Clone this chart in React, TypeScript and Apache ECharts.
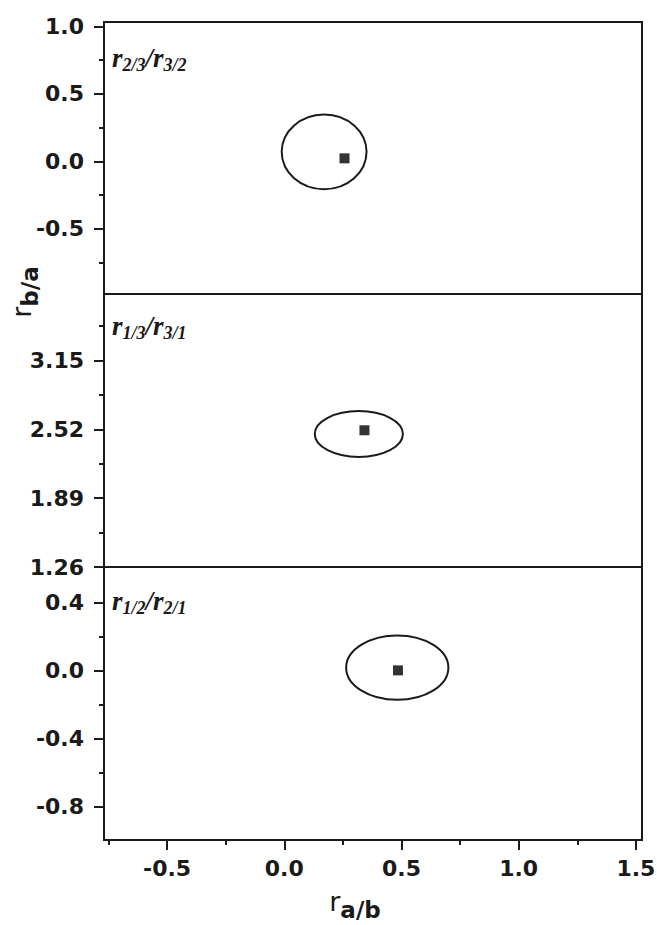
import React, { useEffect, useRef } from "react";
import * as echarts from "echarts";

const xRange = [-0.769, 1.526];
const xMajorTicks = [-0.5, 0, 0.5, 1.0, 1.5];
const xMinorTicks = [-0.75, -0.25, 0.25, 0.75, 1.25];

const panelSubs = [
  ["2/3", "3/2"],
  ["1/3", "3/1"],
  ["1/2", "2/1"],
];
const yRanges = [
  [-0.983, 1.032],
  [1.26, 3.758],
  [-0.996, 0.607],
];
const yMajorTicks = [
  [1.0, 0.5, 0.0, -0.5],
  [3.15, 2.52, 1.89, 1.26],
  [0.4, 0.0, -0.4, -0.8],
];
const yMinorTicks = [
  [0.75, 0.25, -0.25, -0.75],
  [3.465, 2.835, 2.205, 1.575],
  [0.2, -0.2, -0.6],
];
const yDecimals = [1, 2, 1];

const ellipseCenters = [
  [0.17, 0.07],
  [0.318, 2.477],
  [0.482, 0.016],
];
const ellipseRadii = [
  [0.181, 0.277],
  [0.188, 0.21],
  [0.218, 0.189],
];
const points = [
  [0.257, 0.022],
  [0.342, 2.511],
  [0.485, 0.0],
];

const gridTops = [22, 294, 567];
const gridHeights = [272, 273, 273];

const INK = "#1a1a1a";
const LABEL_FONT = "'DejaVu Sans', sans-serif";

export default function App() {
  const ref = useRef<HTMLDivElement>(null);

  useEffect(() => {
    if (!ref.current) return;
    const chart = echarts.init(ref.current, undefined, { renderer: "svg" });

    const grids = gridTops.map((top, i) => ({
      left: 104,
      top,
      width: 538,
      height: gridHeights[i],
      show: true,
      borderColor: INK,
      borderWidth: 2,
      backgroundColor: "transparent",
      containLabel: false,
      outerBoundsMode: "none",
    }));

    const xAxes: any[] = [];
    const yAxes: any[] = [];
    const series: any[] = [];

    for (let i = 0; i < 3; i++) {
      const isBottom = i === 2;
      xAxes.push({
        type: "value",
        gridIndex: i,
        min: xRange[0],
        max: xRange[1],
        show: isBottom,
        position: "bottom",
        splitLine: { show: false },
        axisLine: { show: true, onZero: false, lineStyle: { color: INK, width: 2 } },
        axisTick: {
          show: true,
          inside: false,
          length: 10,
          customValues: xMajorTicks,
          lineStyle: { color: INK, width: 2 },
        },
        axisLabel: {
          show: true,
          customValues: xMajorTicks,
          margin: 17,
          fontFamily: LABEL_FONT,
          fontWeight: "bold",
          fontSize: 22,
          color: INK,
          formatter: (v: number) => v.toFixed(1),
        },
      });
      xAxes.push({
        type: "value",
        gridIndex: i,
        min: xRange[0],
        max: xRange[1],
        show: isBottom,
        position: "bottom",
        splitLine: { show: false },
        axisLine: { show: false, onZero: false },
        axisTick: {
          show: true,
          length: 5,
          customValues: xMinorTicks,
          lineStyle: { color: INK, width: 2 },
        },
        axisLabel: { show: false },
      });
      yAxes.push({
        type: "value",
        gridIndex: i,
        min: yRanges[i][0],
        max: yRanges[i][1],
        position: "left",
        splitLine: { show: false },
        axisLine: { show: true, onZero: false, lineStyle: { color: INK, width: 2 } },
        axisTick: {
          show: true,
          length: 10,
          customValues: yMajorTicks[i],
          lineStyle: { color: INK, width: 2 },
        },
        axisLabel: {
          show: true,
          customValues: yMajorTicks[i],
          margin: 20,
          fontFamily: LABEL_FONT,
          fontWeight: "bold",
          fontSize: 22,
          color: INK,
          formatter: (v: number) => v.toFixed(yDecimals[i]),
        },
      });
      yAxes.push({
        type: "value",
        gridIndex: i,
        min: yRanges[i][0],
        max: yRanges[i][1],
        position: "left",
        offset: 0,
        splitLine: { show: false },
        axisLine: { show: false, onZero: false },
        axisTick: {
          show: true,
          length: 5,
          customValues: yMinorTicks[i],
          lineStyle: { color: INK, width: 2 },
        },
        axisLabel: { show: false },
      });

      series.push({
        type: "custom",
        xAxisIndex: i * 2,
        yAxisIndex: i * 2,
        clip: true,
        data: [[ellipseCenters[i][0], ellipseCenters[i][1], ellipseRadii[i][0], ellipseRadii[i][1]]],
        encode: { x: 0, y: 1 },
        renderItem: (_params: any, api: any) => {
          const c = api.coord([api.value(0), api.value(1)]);
          const s = api.size([api.value(2), api.value(3)]);
          return {
            type: "ellipse",
            shape: { cx: c[0], cy: c[1], rx: s[0], ry: s[1] },
            style: { fill: "none", stroke: INK, lineWidth: 2 },
          };
        },
      });
      series.push({
        type: "scatter",
        xAxisIndex: i * 2,
        yAxisIndex: i * 2,
        symbol: "rect",
        symbolSize: 10,
        itemStyle: { color: "#000" },
        data: [points[i]],
      });
    }

    const serifRich = {
      r: {
        fontFamily: "'Liberation Serif', serif",
        fontStyle: "italic",
        fontWeight: "bold",
        fontSize: 27,
        lineHeight: 26,
        verticalAlign: "top",
        fill: INK,
      },
      s: {
        fontFamily: "'Liberation Serif', serif",
        fontStyle: "italic",
        fontWeight: "bold",
        fontSize: 18,
        lineHeight: 18,
        padding: [12, 0, 0, 0],
        verticalAlign: "top",
        fill: INK,
      },
    };

    const panelLabelGraphics = panelSubs.map((subs, i) => ({
      type: "text",
      left: 112,
      top: gridTops[i] + [22, 18, 20][i],
      style: {
        text: `{r|r}{s|${subs[0]}}{r|/r}{s|${subs[1]}}`,
        rich: serifRich,
      },
    }));

    const titleRich = {
      r: {
        fontFamily: LABEL_FONT,
        fontSize: 27,
        lineHeight: 26,
        verticalAlign: "top",
        fill: INK,
      },
      s: {
        fontFamily: LABEL_FONT,
        fontWeight: "bold",
        fontSize: 23,
        lineHeight: 22,
        padding: [10, 0, 0, 0],
        verticalAlign: "top",
        fill: INK,
      },
    };

    chart.setOption({
      animation: false,
      backgroundColor: "#fff",
      grid: grids,
      xAxis: xAxes,
      yAxis: yAxes,
      series,
      graphic: [
        ...panelLabelGraphics,
        {
          type: "text",
          x: 355,
          y: 901,
          style: {
            text: "{r|r}{s|a/b}",
            rich: titleRich,
            align: "center",
            verticalAlign: "middle",
          },
        },
        {
          type: "text",
          x: 21,
          y: 292,
          rotation: Math.PI / 2,
          style: {
            text: "{r|r}{s|b/a}",
            rich: titleRich,
            align: "center",
            verticalAlign: "middle",
          },
        },
      ],
    });

    return () => chart.dispose();
  }, []);

  return (
    <div
      ref={ref}
      style={{ position: "fixed", left: 0, top: 0, width: 657, height: 925, background: "#fff" }}
    />
  );
}
